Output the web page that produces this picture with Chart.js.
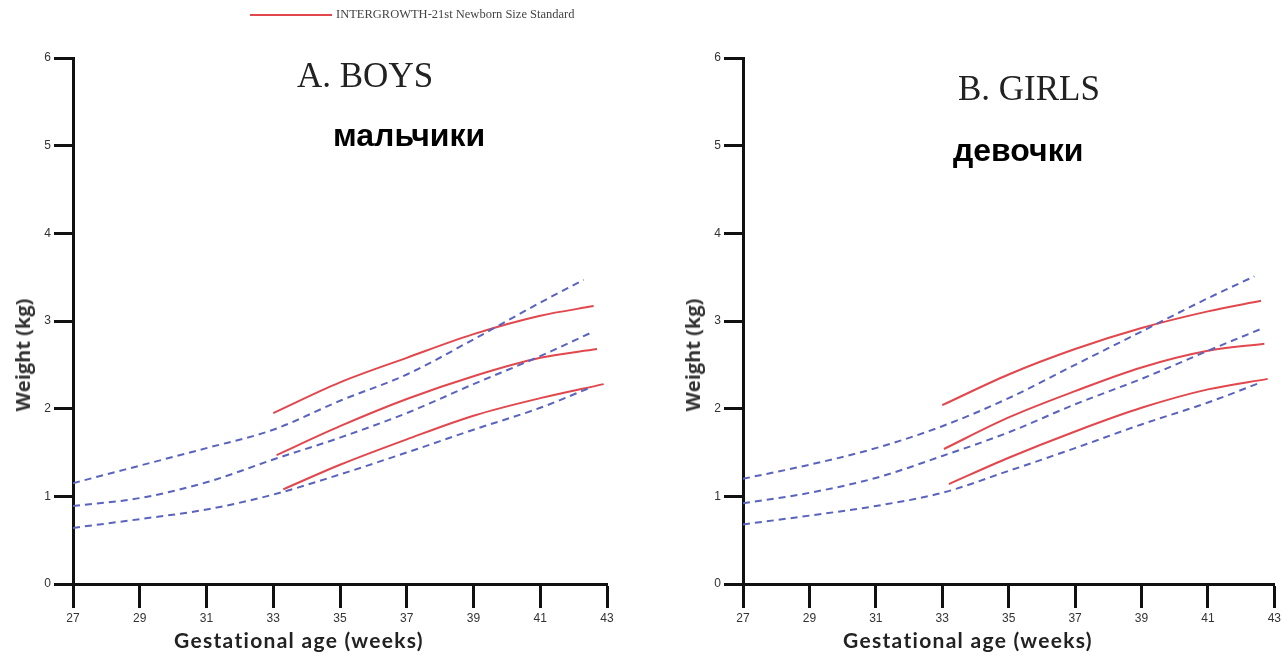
<!DOCTYPE html>
<html>
<head>
<meta charset="utf-8">
<script src="https://cdn.jsdelivr.net/npm/chart.js@4.4.1/dist/chart.umd.min.js"></script>
<style>
  html, body { margin: 0; padding: 0; background: #fff; }
  body { width: 1284px; height: 656px; position: relative; overflow: hidden; }
  .panel { position: absolute; top: 0; height: 656px; }
  .txt { position: absolute; white-space: nowrap; line-height: 1; }
  .serifTitle { font-family: "Liberation Serif", "Times New Roman", serif; font-size: 35px; color: #222; }
  .ruTitle { font-family: "Liberation Sans", Arial, sans-serif; font-weight: bold; font-size: 32px; color: #000; }
  .xTitle { font-family: Lato, "Noto Sans", sans-serif; font-weight: bold; font-size: 21px; letter-spacing: 1.3px; color: #222; }
  .yTitle { font-family: "Open Sans", "Noto Sans", sans-serif; font-weight: bold; font-size: 20px; color: #333;
            transform: translate(-50%, -50%) rotate(-90deg); }
</style>
</head>
<body>
<div class="panel" style="left:0; width:640px;"><canvas id="boysChart"></canvas></div>
<div class="panel" style="left:660px; width:624px;"><canvas id="girlsChart"></canvas></div>

<div style="position:absolute; left:250px; top:14px; width:82px; height:2px; background:#e2474d;"></div>
<div class="txt" style="left:336px; top:8px; font-family:'Liberation Serif', serif; font-size:12.5px; color:#444;">INTERGROWTH-21st Newborn Size Standard</div>

<div class="txt serifTitle" style="left:297px; top:58px;">A. BOYS</div>
<div class="txt ruTitle" style="left:333px; top:119px;">мальчики</div>
<div class="txt serifTitle" style="left:958px; top:71px;">B. GIRLS</div>
<div class="txt ruTitle" style="left:953px; top:134px;">девочки</div>

<div class="txt yTitle" style="left:23px; top:355px;">Weight (kg)</div>
<div class="txt yTitle" style="left:693px; top:355px;">Weight (kg)</div>
<div class="txt xTitle" style="left:174px; top:629px;">Gestational age (weeks)</div>
<div class="txt xTitle" style="left:843px; top:629px;">Gestational age (weeks)</div>

<script>
// axis ticks
const weekTicks = [27, 29, 31, 33, 35, 37, 39, 41, 43];
const weightTicks = [0, 1, 2, 3, 4, 5, 6];

// boys: reference curves (dashed), [week, kg]
const boysDashUpper = [[27, 1.15], [29, 1.35], [31, 1.55], [33, 1.76], [35, 2.09], [37, 2.39], [39, 2.79], [41, 3.21], [42.3, 3.47]];
const boysDashMiddle = [[27, 0.89], [29, 0.98], [31, 1.16], [33, 1.42], [35, 1.67], [37, 1.95], [39, 2.28], [41, 2.60], [42.6, 2.88]];
const boysDashLower = [[27, 0.64], [29, 0.74], [31, 0.85], [33, 1.02], [35, 1.25], [37, 1.50], [39, 1.76], [41, 2.01], [42.5, 2.24]];

// boys: INTERGROWTH-21st (solid red)
const boysIgUpper = [[33.0, 1.95], [35, 2.30], [37, 2.58], [39, 2.85], [41, 3.06], [42.6, 3.17]];
const boysIgMiddle = [[33.1, 1.47], [35, 1.80], [37, 2.11], [39, 2.37], [41, 2.58], [42.7, 2.68]];
const boysIgLower = [[33.3, 1.08], [35, 1.36], [37, 1.65], [39, 1.92], [41, 2.12], [42.9, 2.28]];

// girls: reference curves (dashed)
const girlsDashUpper = [[27, 1.20], [29, 1.36], [31, 1.55], [33, 1.80], [35, 2.12], [37, 2.50], [39, 2.88], [41, 3.26], [42.4, 3.51]];
const girlsDashMiddle = [[27, 0.92], [29, 1.04], [31, 1.21], [33, 1.46], [35, 1.73], [37, 2.05], [39, 2.34], [41, 2.66], [42.6, 2.91]];
const girlsDashLower = [[27, 0.68], [29, 0.78], [31, 0.89], [33, 1.04], [35, 1.29], [37, 1.55], [39, 1.82], [41, 2.07], [42.6, 2.30]];

// girls: INTERGROWTH-21st (solid red)
const girlsIgUpper = [[33.0, 2.04], [35, 2.39], [37, 2.68], [39, 2.92], [41, 3.11], [42.6, 3.23]];
const girlsIgMiddle = [[33.05, 1.54], [35, 1.90], [37, 2.20], [39, 2.47], [41, 2.66], [42.7, 2.74]];
const girlsIgLower = [[33.2, 1.14], [35, 1.44], [37, 1.74], [39, 2.01], [41, 2.22], [42.8, 2.34]];

const RED = "#e2474d";
const BLUE = "#5a63bd";
const AXIS = "#111";
const TICK_FONT = { family: "'Liberation Sans Narrow', 'Liberation Sans', sans-serif", size: 12 };

function toPoints(pairs) {
  return pairs.map(([x, y]) => ({ x, y }));
}

function dashedSet(pairs) {
  return {
    data: toPoints(pairs),
    borderColor: BLUE,
    borderWidth: 2,
    borderDash: [7, 5],
    pointRadius: 0,
    cubicInterpolationMode: "monotone",
    fill: false
  };
}

function solidSet(pairs) {
  return {
    data: toPoints(pairs),
    borderColor: RED,
    borderWidth: 2,
    pointRadius: 0,
    cubicInterpolationMode: "monotone",
    fill: false
  };
}

function buildPanel(canvasId, yAxisWidth, rightPad, dashed, solid) {
  return new Chart(document.getElementById(canvasId), {
    type: "line",
    data: {
      datasets: [...dashed.map(dashedSet), ...solid.map(solidSet)]
    },
    options: {
      responsive: true,
      maintainAspectRatio: false,
      animation: false,
      layout: { padding: { top: 58, right: rightPad, bottom: 0, left: 0 } },
      plugins: { legend: { display: false }, tooltip: { enabled: false } },
      scales: {
        x: {
          type: "linear",
          min: weekTicks[0],
          max: weekTicks[weekTicks.length - 1],
          afterBuildTicks: scale => { scale.ticks = weekTicks.map(value => ({ value })); },
          afterFit: scale => { scale.height = 72; },
          border: { display: true, color: AXIS, width: 3 },
          grid: { drawOnChartArea: false, drawTicks: true, tickLength: 24, tickWidth: 3, tickColor: AXIS },
          ticks: { color: "#333", font: TICK_FONT, padding: 3, maxRotation: 0 }
        },
        y: {
          min: weightTicks[0],
          max: weightTicks[weightTicks.length - 1],
          afterBuildTicks: scale => { scale.ticks = weightTicks.map(value => ({ value })); },
          afterFit: scale => { scale.width = yAxisWidth; },
          border: { display: true, color: AXIS, width: 3 },
          grid: { drawOnChartArea: false, drawTicks: true, tickLength: 19, tickWidth: 3, tickColor: AXIS },
          ticks: { color: "#333", font: TICK_FONT, padding: 3 }
        }
      }
    }
  });
}

buildPanel("boysChart", 73, 33,
  [boysDashUpper, boysDashMiddle, boysDashLower],
  [boysIgUpper, boysIgMiddle, boysIgLower]);

buildPanel("girlsChart", 83, 9,
  [girlsDashUpper, girlsDashMiddle, girlsDashLower],
  [girlsIgUpper, girlsIgMiddle, girlsIgLower]);
</script>
</body>
</html>
